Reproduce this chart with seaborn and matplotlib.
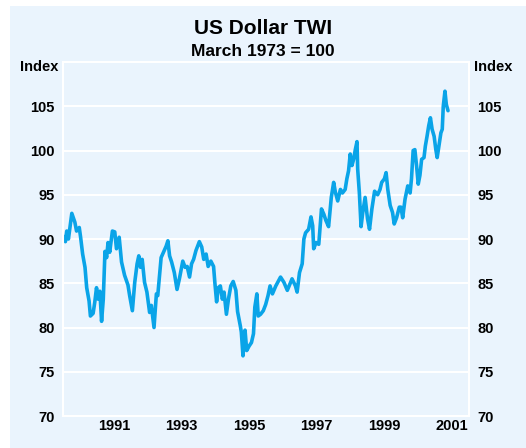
import numpy as np
import pandas as pd
import matplotlib
matplotlib.use("Agg")
import matplotlib.pyplot as plt
from matplotlib.patches import Rectangle
import seaborn as sns

# decimal year, index value
years = [1990.01, 1990.07, 1990.11, 1990.16, 1990.26, 1990.35, 1990.40, 1990.48, 1990.52, 1990.58,
         1990.65, 1990.70, 1990.77, 1990.81, 1990.89, 1990.94, 1990.99, 1991.04, 1991.09, 1991.14,
         1991.19, 1991.24, 1991.29, 1991.33, 1991.38, 1991.46, 1991.53, 1991.58, 1991.66, 1991.73,
         1991.82, 1991.92, 1991.97, 1992.05, 1992.12, 1992.19, 1992.24, 1992.29, 1992.34, 1992.41,
         1992.48, 1992.56, 1992.61, 1992.69, 1992.76, 1992.80, 1992.90, 1992.97, 1993.05, 1993.10,
         1993.15, 1993.21, 1993.29, 1993.37, 1993.44, 1993.54, 1993.61, 1993.67, 1993.74, 1993.80,
         1993.86, 1993.93, 1994.03, 1994.10, 1994.16, 1994.23, 1994.29, 1994.37, 1994.45, 1994.49,
         1994.54, 1994.59, 1994.65, 1994.71, 1994.76, 1994.83, 1994.89, 1994.96, 1995.03, 1995.11,
         1995.16, 1995.24, 1995.27, 1995.32, 1995.38, 1995.43, 1995.50, 1995.57, 1995.63, 1995.67,
         1995.73, 1995.77, 1995.84, 1995.92, 1995.99, 1996.06, 1996.12, 1996.19, 1996.29, 1996.43,
         1996.53, 1996.63, 1996.77, 1996.87, 1996.92, 1996.99, 1997.07, 1997.12, 1997.17, 1997.26,
         1997.33, 1997.38, 1997.41, 1997.48, 1997.56, 1997.64, 1997.71, 1997.77, 1997.85, 1997.93,
         1998.00, 1998.05, 1998.12, 1998.20, 1998.26, 1998.34, 1998.39, 1998.44, 1998.49, 1998.54,
         1998.59, 1998.64, 1998.69, 1998.71, 1998.76, 1998.81, 1998.86, 1998.93, 1999.00, 1999.06,
         1999.13, 1999.21, 1999.30, 1999.37, 1999.42, 1999.50, 1999.55, 1999.60, 1999.67, 1999.74,
         1999.79, 1999.86, 1999.94, 1999.99, 2000.04, 2000.11, 2000.19, 2000.26, 2000.30, 2000.35,
         2000.40, 2000.45, 2000.50, 2000.55, 2000.60, 2000.67, 2000.71, 2000.76, 2000.81, 2000.86,
         2000.91, 2000.97, 2001.02, 2001.06, 2001.11, 2001.17, 2001.21, 2001.24, 2001.29, 2001.33,
         2001.38]
twi = [90.3, 89.7, 90.9, 90.0, 92.9, 91.9, 90.9, 91.3, 90.2, 88.3,
       86.8, 84.5, 83.0, 81.3, 81.6, 82.9, 84.5, 83.2, 84.1, 80.7,
       83.2, 88.6, 87.9, 89.6, 88.5, 90.9, 90.8, 88.9, 90.2, 87.4,
       85.9, 84.8, 83.6, 81.9, 85.1, 87.2, 88.1, 86.8, 87.7, 85.1,
       84.0, 81.7, 82.5, 80.0, 83.8, 83.6, 87.9, 88.5, 89.2, 89.8,
       88.1, 87.4, 86.2, 84.3, 85.5, 87.5, 86.8, 86.9, 85.7, 87.2,
       87.7, 88.7, 89.7, 89.1, 87.7, 88.3, 86.9, 87.5, 86.9, 85.0,
       82.9, 84.5, 84.7, 83.2, 84.0, 81.5, 83.2, 84.7, 85.2, 84.2,
       81.8, 80.2, 79.5, 76.8, 79.7, 77.4, 77.9, 78.3, 79.3, 82.3,
       83.8, 81.3, 81.5, 81.9, 82.6, 83.6, 84.7, 83.8, 84.7, 85.7,
       85.1, 84.2, 85.5, 84.7, 84.0, 86.2, 87.2, 90.0, 90.7, 91.1,
       92.5, 91.5, 88.9, 89.6, 89.4, 93.4, 92.8, 92.1, 91.4, 94.7,
       96.4, 95.3, 94.3, 95.6, 95.2, 95.6, 96.8, 97.7, 99.6, 98.3,
       99.0, 100.1, 101.0, 97.9, 95.2, 91.4, 93.0, 94.7, 92.3, 91.1,
       93.4, 95.4, 95.0, 95.6, 96.4, 96.8, 97.5, 95.6, 93.8, 93.0,
       91.7, 92.4, 93.6, 93.6, 92.4, 94.5, 96.0, 95.2, 96.8, 100.0,
       100.1, 98.3, 96.2, 97.2, 99.0, 99.2, 100.5, 101.6, 102.8, 103.7,
       102.4, 101.6, 100.1, 99.2, 100.5, 102.0, 102.4, 105.0, 106.7, 105.2,
       104.5]

y_ticks = [70, 75, 80, 85, 90, 95, 100, 105]
year_ticks = list(range(1991, 2002))
year_labels = ["1991", "1993", "1995", "1997", "1999", "2001"]

bg = "#EAF4FD"
line_col = "#0AA4E8"

sns.set_style("white", {"axes.facecolor": bg, "figure.facecolor": "white",
                        "text.color": "black", "xtick.color": "black", "ytick.color": "black"})
plt.rcParams["font.family"] = ["Liberation Sans", "DejaVu Sans"]
plt.rcParams["font.weight"] = "bold"

df = pd.DataFrame({"year": years, "twi": twi})

fig = plt.figure(figsize=(5.26, 4.48), dpi=100)
# light blue panel with a thin white margin at the top and left
fig.patches.append(Rectangle((10 / 526, 0), 1, 442 / 448, transform=fig.transFigure,
                             facecolor=bg, edgecolor="none", zorder=-10))
ax = fig.add_axes([0.1198, 0.0714, 0.7718, 0.7902])

sns.lineplot(data=df, x="year", y="twi", ax=ax, color=line_col, linewidth=2.6)

ax.set_xlim(1990, 2002)
ax.set_ylim(70, 110)
ax.set_yticks(y_ticks)
ax.set_yticklabels([str(v) for v in y_ticks], fontsize=10.5, fontweight="bold")
ax.yaxis.grid(True, color="white", linewidth=1.5)
ax.set_axisbelow(True)

# tick marks at year boundaries, labels centred in the year
ax.set_xticks(year_ticks)
ax.set_xticklabels([])
ax.set_xticks([int(s) + 0.5 for s in year_labels], minor=True)
ax.set_xticklabels(year_labels, minor=True, fontsize=10.5, fontweight="bold")
ax.tick_params(axis="x", which="major", direction="in", length=7, width=1.2, color="white")
ax.tick_params(axis="x", which="minor", length=0, pad=2, labelcolor="black")
ax.tick_params(axis="y", length=0, pad=6, labelleft=True, labelright=True, labelcolor="black")

for s in ax.spines.values():
    s.set_color("white")
    s.set_linewidth(1.5)

ax.set_xlabel("")
ax.set_ylabel("")

ax.text(-0.012, 0.985, "Index", transform=ax.transAxes, ha="right", va="center",
        fontsize=10.5, fontweight="bold", color="black")
ax.text(1.012, 0.985, "Index", transform=ax.transAxes, ha="left", va="center",
        fontsize=10.5, fontweight="bold", color="black")

fig.text(0.5, 0.937, "US Dollar TWI", ha="center", va="center", fontsize=15,
         fontweight="bold", color="black")
fig.text(0.5, 0.886, "March 1973 = 100", ha="center", va="center", fontsize=12.5,
         fontweight="bold", color="black")

fig.savefig("out.png", dpi=100, facecolor="white")
